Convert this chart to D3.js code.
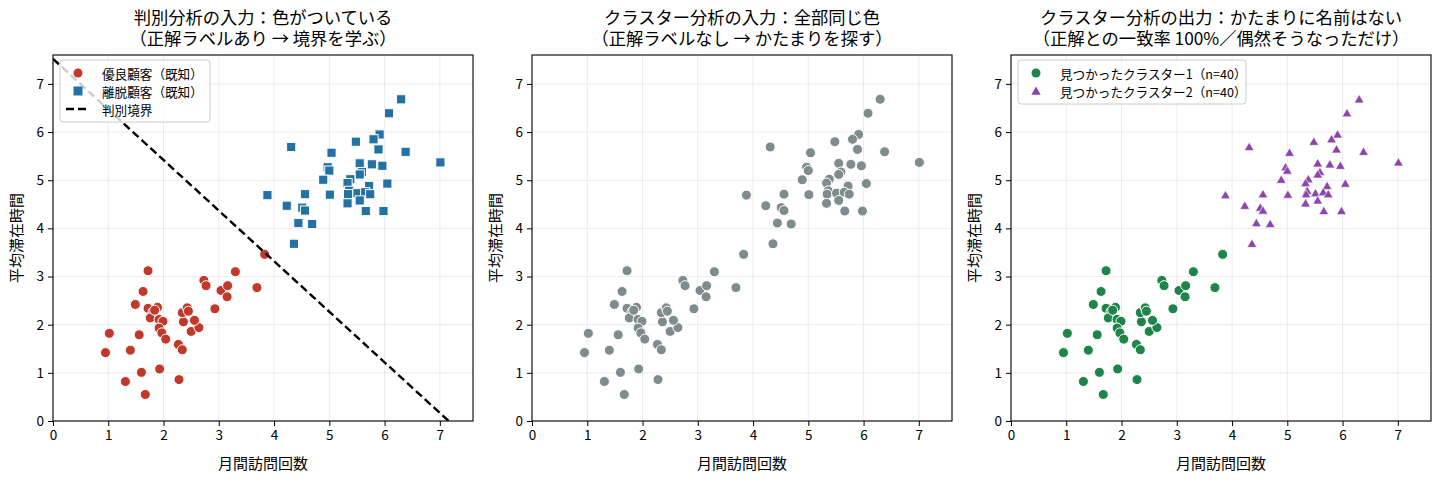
<!DOCTYPE html>
<html><head><meta charset="utf-8">
<script src="https://cdn.jsdelivr.net/npm/d3@7"></script>
<style>
body{margin:0;background:#fff;}
svg{display:block;font-family:"Noto Sans CJK JP","Noto Sans",sans-serif;}
</style></head><body>
<svg id="c" width="1440" height="483"></svg>
<script>
// ---- data ----
const goodX = [1.72,1.63,1.49,1.72,1.89,1.81,1.76,1.92,1.99,1.92,1.97,2.04,1.02,1.56,0.95,1.40,1.60,1.93,1.31,1.67,2.28,2.27,2.34,2.50,2.64,2.56,2.36,2.34,2.43,2.45,2.73,2.77,2.93,3.04,3.16,3.15,3.30,3.69,3.83,1.84];
const goodY = [3.12,2.69,2.42,2.34,2.36,2.27,2.14,2.11,2.07,1.93,1.83,1.70,1.82,1.79,1.42,1.47,1.01,1.08,0.82,0.55,0.86,1.59,1.48,1.86,1.94,2.09,2.06,2.25,2.35,2.28,2.92,2.81,2.33,2.71,2.81,2.58,3.10,2.77,3.46,2.30];
const churnX = [6.30,6.08,5.91,5.80,5.48,5.89,6.38,5.04,7.01,5.55,5.77,5.96,4.97,5.00,5.59,5.55,4.89,5.38,5.33,5.72,6.05,5.36,5.01,5.34,5.51,5.65,5.74,5.55,5.33,5.66,5.98,4.31,3.88,4.56,4.23,4.51,4.56,4.44,4.69,4.36];
const churnY = [6.68,6.39,5.95,5.85,5.80,5.64,5.59,5.57,5.37,5.35,5.33,5.30,5.27,5.20,5.17,5.12,5.01,5.02,4.94,4.88,4.93,4.78,4.70,4.71,4.73,4.75,4.71,4.58,4.52,4.36,4.36,5.69,4.69,4.71,4.47,4.43,4.37,4.11,4.09,3.68];
const boundaryX = [0, 7.16];
const boundaryY = [7.52, 0];
const ticks = [0,1,2,3,4,5,6,7];
const titles = [
  ["判別分析の入力：色がついている","（正解ラベルあり → 境界を学ぶ）"],
  ["クラスター分析の入力：全部同じ色","（正解ラベルなし → かたまりを探す）"],
  ["クラスター分析の出力：かたまりに名前はない","（正解との一致率 100%／偶然そうなっただけ）"]
];
const legend1 = ["優良顧客（既知）","離脱顧客（既知）","判別境界"];
const legend3 = ["見つかったクラスター1（n=40）","見つかったクラスター2（n=40）"];
const xLabel = "月間訪問回数", yLabel = "平均滞在時間";

const RED="#c0392b", BLUE="#2471a3", GREY="#7f8c8d", GREEN="#1e8449", PURPLE="#8e44ad";

const good = goodX.map((x,i)=>({x, y:goodY[i]}));
const churn = churnX.map((x,i)=>({x, y:churnY[i]}));

const svg = d3.select("#c");
const W = 420, H = 366, TOP = 55;
const lefts = [53, 532, 1011];

function panel(k){
  const L = lefts[k];
  const g = svg.append("g").attr("transform",`translate(${L},${TOP})`);
  const x = d3.scaleLinear().domain([0,7.6]).range([0,W]);
  const y = d3.scaleLinear().domain([0,7.6]).range([H,0]);
  const clipId = "clip"+k;
  g.append("clipPath").attr("id",clipId).append("rect").attr("width",W).attr("height",H);
  // grid
  g.append("g").selectAll("line").data(ticks).join("line")
    .attr("x1",d=>x(d)).attr("x2",d=>x(d)).attr("y1",0).attr("y2",H)
    .attr("stroke","#b0b0b0").attr("stroke-opacity",0.3).attr("stroke-width",0.8);
  g.append("g").selectAll("line").data(ticks).join("line")
    .attr("y1",d=>y(d)).attr("y2",d=>y(d)).attr("x1",0).attr("x2",W)
    .attr("stroke","#b0b0b0").attr("stroke-opacity",0.3).attr("stroke-width",0.8);
  // axes
  const xa = g.append("g").attr("transform",`translate(0,${H})`)
    .call(d3.axisBottom(x).tickValues(ticks).tickFormat(d3.format("d")).tickSize(5).tickPadding(4));
  const ya = g.append("g")
    .call(d3.axisLeft(y).tickValues(ticks).tickFormat(d3.format("d")).tickSize(5).tickPadding(4));
  [xa,ya].forEach(a=>{
    a.select(".domain").remove();
    a.selectAll("text").attr("font-size",13.5).attr("fill","#000").attr("font-family","'Noto Sans CJK JP'");
    a.selectAll("line").attr("stroke","#000").attr("stroke-width",1);
  });
  // frame
  g.append("rect").attr("width",W).attr("height",H).attr("fill","none").attr("stroke","#000").attr("stroke-width",1.1);
  // title (one text, two lines)
  const tt = svg.append("text").attr("text-anchor","middle").attr("font-size",17.3).attr("fill","#000");
  titles[k].forEach((t,i)=>{
    tt.append("tspan").attr("x",L+W/2).attr("y",24+i*21).text(t);
  });
  svg.append("text").attr("x",L+W/2).attr("y",469).attr("text-anchor","middle").attr("font-size",15).text(xLabel);
  svg.append("text").attr("transform",`translate(${L-35},${TOP+H/2}) rotate(-90)`).attr("text-anchor","middle")
    .attr("dominant-baseline","middle").attr("font-size",15).text(yLabel);

  const pts = g.append("g").attr("clip-path",`url(#${clipId})`);
  const circ = (data,color)=>pts.append("g").selectAll("circle").data(data).join("circle")
    .attr("cx",d=>x(d.x)).attr("cy",d=>y(d.y)).attr("r",5).attr("fill",color)
    .attr("stroke","#fff").attr("stroke-width",1);
  if(k===0){
    circ(good,RED);
    pts.append("g").selectAll("rect").data(churn).join("rect")
      .attr("x",d=>x(d.x)-4.6).attr("y",d=>y(d.y)-4.6).attr("width",9.2).attr("height",9.2)
      .attr("fill",BLUE).attr("stroke","#fff").attr("stroke-width",1);
    const bl = boundaryX.map((bx,i)=>[x(bx),y(boundaryY[i])]);
    pts.append("path").attr("d",d3.line()(bl)).attr("stroke","#000").attr("stroke-width",2.4)
      .attr("stroke-dasharray","8,4").attr("fill","none");
    const lg = g.append("g").attr("transform","translate(7,5)");
    lg.append("rect").attr("width",150).attr("height",62).attr("rx",3)
      .attr("fill","#fff").attr("fill-opacity",0.8).attr("stroke","#cccccc").attr("stroke-width",1);
    lg.append("circle").attr("cx",18).attr("cy",13).attr("r",4.5).attr("fill",RED);
    lg.append("rect").attr("x",13.5).attr("y",26.5).attr("width",9).attr("height",9).attr("fill",BLUE);
    lg.append("line").attr("x1",6).attr("x2",30).attr("y1",49).attr("y2",49).attr("stroke","#000")
      .attr("stroke-width",2.4).attr("stroke-dasharray","8,4");
    legend1.forEach((t,i)=>lg.append("text").attr("x",42).attr("y",13+i*18).attr("dominant-baseline","central")
      .attr("font-size",12.6).text(t));
  } else if(k===1){
    circ(good.concat(churn),GREY);
  } else {
    circ(good,GREEN);
    const tri = d3.symbol().type(d3.symbolTriangle).size(40);
    pts.append("g").selectAll("path").data(churn).join("path")
      .attr("d",tri).attr("transform",d=>`translate(${x(d.x)},${y(d.y)+0.8})`)
      .attr("fill",PURPLE).attr("stroke","#fff").attr("stroke-width",0.6);
    const lg = g.append("g").attr("transform","translate(7,5)");
    lg.append("rect").attr("width",228).attr("height",44).attr("rx",3)
      .attr("fill","#fff").attr("fill-opacity",0.8).attr("stroke","#cccccc").attr("stroke-width",1);
    lg.append("circle").attr("cx",18).attr("cy",13).attr("r",4.5).attr("fill",GREEN);
    lg.append("path").attr("d",d3.symbol().type(d3.symbolTriangle).size(38)).attr("transform","translate(18,32)").attr("fill",PURPLE);
    legend3.forEach((t,i)=>lg.append("text").attr("x",42).attr("y",13+i*18).attr("dominant-baseline","central")
      .attr("font-size",12.6).text(t));
  }
}
[0,1,2].forEach(panel);
</script>
</body></html>
